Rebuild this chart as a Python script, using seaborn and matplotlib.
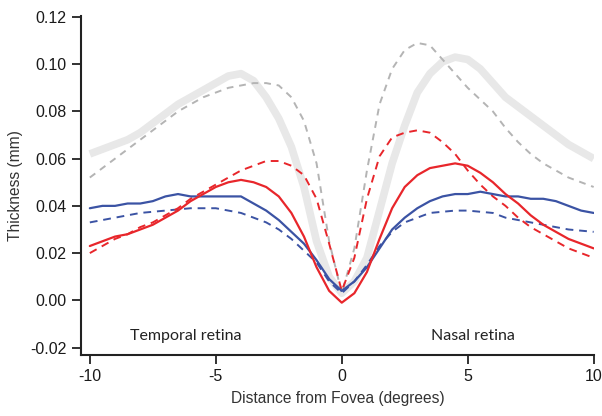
import numpy as np
import pandas as pd
import matplotlib
matplotlib.use("Agg")
import matplotlib.pyplot as plt
import seaborn as sns

# Distance from fovea (degrees)
dist = [-10, -9.5, -9, -8.5, -8, -7.5, -7, -6.5, -6, -5.5, -5, -4.5, -4, -3.5, -3, -2.5, -2, -1.5, -1, -0.5,
        0, 0.5, 1, 1.5, 2, 2.5, 3, 3.5, 4, 4.5, 5, 5.5, 6, 6.5, 7, 7.5, 8, 8.5, 9, 9.5, 10]

# thickness (mm)
gray_thick = [0.062, 0.064, 0.066, 0.068, 0.071, 0.075, 0.079, 0.083, 0.086, 0.089, 0.092, 0.095, 0.096, 0.093,
              0.086, 0.077, 0.065, 0.048, 0.025, 0.010, 0.003, 0.008, 0.018, 0.038, 0.058, 0.074, 0.088, 0.096,
              0.101, 0.103, 0.102, 0.098, 0.092, 0.086, 0.082, 0.078, 0.074, 0.070, 0.066, 0.063, 0.060]
gray_dash = [0.052, 0.056, 0.060, 0.064, 0.068, 0.072, 0.076, 0.080, 0.083, 0.086, 0.088, 0.090, 0.091, 0.092,
             0.092, 0.091, 0.086, 0.076, 0.058, 0.025, 0.003, 0.022, 0.055, 0.083, 0.098, 0.106, 0.109, 0.108,
             0.102, 0.096, 0.090, 0.085, 0.080, 0.073, 0.067, 0.062, 0.058, 0.055, 0.052, 0.050, 0.048]
red_solid = [0.023, 0.025, 0.027, 0.028, 0.030, 0.032, 0.035, 0.038, 0.042, 0.045, 0.048, 0.050, 0.051, 0.050,
             0.048, 0.044, 0.037, 0.027, 0.014, 0.004, -0.001, 0.003, 0.012, 0.026, 0.039, 0.048, 0.053, 0.056,
             0.057, 0.058, 0.057, 0.054, 0.050, 0.045, 0.041, 0.036, 0.032, 0.029, 0.026, 0.024, 0.022]
red_dash = [0.020, 0.023, 0.026, 0.028, 0.031, 0.033, 0.036, 0.039, 0.043, 0.046, 0.049, 0.052, 0.055, 0.057,
            0.059, 0.059, 0.057, 0.053, 0.043, 0.024, 0.004, 0.018, 0.043, 0.061, 0.069, 0.071, 0.072, 0.071,
            0.067, 0.062, 0.055, 0.049, 0.044, 0.040, 0.035, 0.031, 0.028, 0.025, 0.022, 0.020, 0.018]
blue_solid = [0.039, 0.040, 0.040, 0.041, 0.041, 0.042, 0.044, 0.045, 0.044, 0.044, 0.044, 0.044, 0.044, 0.041,
              0.038, 0.034, 0.029, 0.024, 0.017, 0.009, 0.004, 0.008, 0.014, 0.022, 0.030, 0.035, 0.039, 0.042,
              0.044, 0.045, 0.045, 0.046, 0.045, 0.044, 0.044, 0.043, 0.043, 0.042, 0.040, 0.038, 0.037]
blue_dash = [0.033, 0.034, 0.035, 0.036, 0.037, 0.0375, 0.038, 0.0385, 0.039, 0.039, 0.039, 0.038, 0.037, 0.035,
             0.033, 0.030, 0.026, 0.021, 0.016, 0.008, 0.003, 0.008, 0.015, 0.023, 0.029, 0.033, 0.035, 0.037,
             0.0375, 0.038, 0.038, 0.0375, 0.037, 0.035, 0.034, 0.033, 0.032, 0.031, 0.030, 0.0295, 0.029]

yticks = [-0.02, 0.0, 0.02, 0.04, 0.06, 0.08, 0.10, 0.12]

sns.set_style("white")
plt.rcParams['font.family'] = ['Liberation Sans', 'DejaVu Sans']
plt.rcParams['axes.unicode_minus'] = False

fig = plt.figure(figsize=(6.02, 4.16), dpi=100)
ax = fig.add_axes([0.135, 0.147, 0.852, 0.815])

sns.lineplot(x=dist, y=gray_thick, ax=ax, color='#e8e8e8', lw=5.5, solid_capstyle='butt')
sns.lineplot(x=dist, y=gray_dash, ax=ax, color='#b4b4b4', lw=1.4, linestyle=(0, (3.5, 3)))
sns.lineplot(x=dist, y=blue_dash, ax=ax, color='#3b53a4', lw=1.4, linestyle=(0, (4, 3)))
sns.lineplot(x=dist, y=red_dash, ax=ax, color='#e8262b', lw=1.4, linestyle=(0, (4, 3)))
sns.lineplot(x=dist, y=blue_solid, ax=ax, color='#3b53a4', lw=1.6)
sns.lineplot(x=dist, y=red_solid, ax=ax, color='#e8262b', lw=1.6)

ax.set_xlim(-10.34, 10.02)
ax.set_ylim(-0.0231, 0.1205)
ax.set_xticks([-10, -5, 0, 5, 10])
ax.set_yticks(yticks)
ax.set_yticklabels([f'{v:.2f}' for v in yticks])

for s in ['top', 'right']:
    ax.spines[s].set_visible(False)
for s in ['left', 'bottom']:
    ax.spines[s].set_color('#222222')
    ax.spines[s].set_linewidth(1.5)
ax.tick_params(axis='both', direction='out', length=6.5, width=1.3, color='#222222',
               labelsize=11.5, labelcolor='#1a1a1a', left=True, bottom=True, pad=4)

ax.set_xlabel('Distance from Fovea (degrees)', fontsize=11.2, color='#333333', labelpad=5)
ax.set_ylabel('Thickness (mm)', fontsize=11.2, color='#333333', labelpad=5)

ax.text(-6.2, -0.0153, 'Temporal retina', ha='center', va='center', fontsize=11.5,
        family=['Lato', 'DejaVu Sans'], color='#222222')
ax.text(5.2, -0.0153, 'Nasal retina', ha='center', va='center', fontsize=11.5,
        family=['Lato', 'DejaVu Sans'], color='#222222')

plt.savefig('out.png', dpi=100)
